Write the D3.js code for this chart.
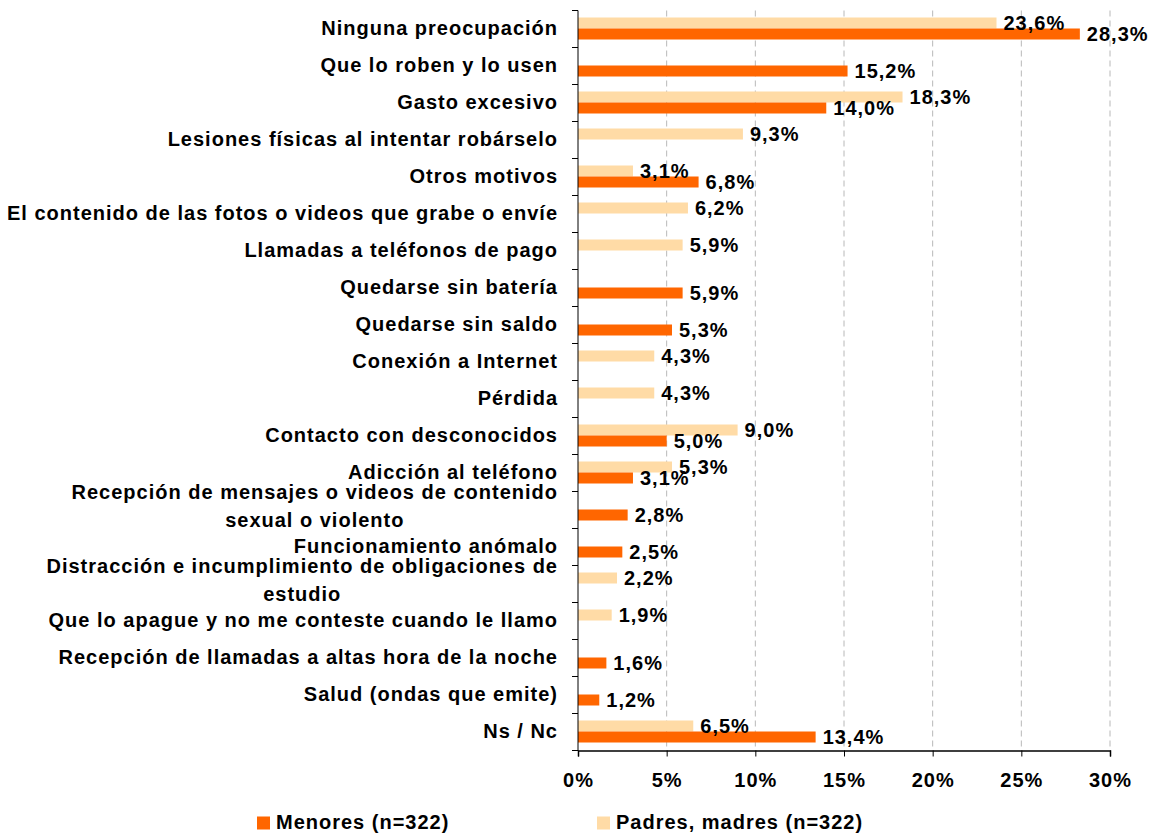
<!DOCTYPE html>
<html>
<head>
<meta charset="utf-8">
<script src="https://cdn.jsdelivr.net/npm/d3@7"></script>
<style>
    body { margin: 0; background: #fff; }
    svg { display: block; font-family: "Liberation Sans", Arial, sans-serif; font-weight: bold; }
    svg text { font-size: 20px; letter-spacing: 1px; }
</style>
</head>
<body>
<div id="chart"></div>
<script>
    // Data (percent). null = no bar for that group
    const categories = [
        "Ninguna preocupación",
        "Que lo roben y lo usen",
        "Gasto excesivo",
        "Lesiones físicas al intentar robárselo",
        "Otros motivos",
        "El contenido de las fotos o videos que grabe o envíe",
        "Llamadas a teléfonos de pago",
        "Quedarse sin batería",
        "Quedarse sin saldo",
        "Conexión a Internet",
        "Pérdida",
        "Contacto con desconocidos",
        "Adicción al teléfono",
        "Recepción de mensajes o videos de contenido\nsexual o violento",
        "Funcionamiento anómalo",
        "Distracción e incumplimiento de obligaciones de\nestudio",
        "Que lo apague y no me conteste cuando le llamo",
        "Recepción de llamadas a altas hora de la noche",
        "Salud (ondas que emite)",
        "Ns / Nc"
    ];
    const menores = [28.3, 15.2, 14.0, null, 6.8, null, null, 5.9, 5.3, null, null, 5.0, 3.1, 2.8, 2.5, null, null, 1.6, 1.2, 13.4];
    const padres = [23.6, null, 18.3, 9.3, 3.1, 6.2, 5.9, null, null, 4.3, 4.3, 9.0, 5.3, null, null, 2.2, 1.9, null, null, 6.5];
    const xTicks = [0, 5, 10, 15, 20, 25, 30];
    const seriesNames = ["Menores (n=322)", "Padres, madres (n=322)"];
    const seriesColors = ["#FF6600", "#FFDBA6"];

    const W = 1154, H = 834;
    const margin = { top: 10.5, right: 44, bottom: 83.5, left: 578 };
    const width = W - margin.left - margin.right;
    const height = H - margin.top - margin.bottom;

    const svg = d3.select("#chart").append("svg")
        .attr("width", W)
        .attr("height", H);

    const g = svg.append("g")
        .attr("transform", "translate(" + margin.left + "," + margin.top + ")");

    const x = d3.scaleLinear().domain([0, 30]).range([0, width]);
    const y = d3.scaleBand().domain(categories).range([0, height]);
    const sub = d3.scaleBand().domain(["Padres", "Menores"])
        .range([y.bandwidth() / 2 - 11.5, y.bandwidth() / 2 + 10.5]);

    // dashed gridlines
    g.append("g")
        .selectAll("line")
        .data(xTicks.slice(1))
        .join("line")
        .attr("x1", d => x(d)).attr("x2", d => x(d))
        .attr("y1", 0).attr("y2", height)
        .attr("stroke", "#b8b8b8")
        .attr("stroke-width", 1)
        .attr("stroke-dasharray", "6,4");

    // rows of bars
    const rows = categories.map((c, i) => ({ cat: c, Menores: menores[i], Padres: padres[i] }));
    const groups = [
        { key: "Padres", color: seriesColors[1] },
        { key: "Menores", color: seriesColors[0] }
    ];

    const barLayer = g.append("g");
    const labelLayer = g.append("g");

    groups.forEach(s => {
        const vals = rows.filter(r => r[s.key] != null);
        barLayer.append("g")
            .selectAll("rect")
            .data(vals)
            .join("rect")
            .attr("x", 0)
            .attr("y", d => y(d.cat) + sub(s.key))
            .attr("width", d => x(d[s.key]))
            .attr("height", sub.bandwidth())
            .attr("fill", s.color);

        labelLayer.append("g")
            .selectAll("text")
            .data(vals)
            .join("text")
            .attr("x", d => x(d[s.key]) + 7)
            .attr("y", d => y(d.cat) + sub(s.key) + sub.bandwidth() + 1)
            .attr("fill", "#000")
            .text(d => d3.format(".1f")(d[s.key]).replace(".", ",") + "%");
    });

    // left axis line + ticks at band edges
    g.append("line")
        .attr("x1", 0).attr("x2", 0)
        .attr("y1", 0).attr("y2", height)
        .attr("stroke", "#000");
    g.append("g")
        .selectAll("line")
        .data(d3.range(categories.length + 1))
        .join("line")
        .attr("x1", -6).attr("x2", 0)
        .attr("y1", d => d * y.step()).attr("y2", d => d * y.step())
        .attr("stroke", "#000");

    // category labels
    const labels = g.append("g")
        .selectAll("text")
        .data(categories)
        .join("text")
        .attr("fill", "#000")
        .each(function (d) {
            const lines = d.split("\n");
            const t = d3.select(this);
            const cy = y(d) + y.bandwidth() / 2;
            if (lines.length === 1) {
                t.attr("x", -20).attr("y", cy + 6).attr("text-anchor", "end").text(d);
            } else {
                t.attr("y", cy - 11);
                t.append("tspan").attr("class", "l0").text(lines[0]);
                t.append("tspan").attr("class", "l1").text(lines[1]);
            }
        });
    // multi-line labels: lines centred on each other, block right aligned
    labels.filter(d => d.includes("\n")).each(function () {
        const t = d3.select(this);
        const t0 = t.select(".l0"), t1 = t.select(".l1");
        const w0 = t0.node().getComputedTextLength();
        const cx = -20 - w0 / 2;
        const yy = +t.attr("y");
        t.attr("text-anchor", "middle");
        t0.attr("x", cx).attr("y", yy);
        t1.attr("x", cx).attr("y", yy + 28);
    });

    // bottom axis
    const xAxis = g.append("g")
        .attr("transform", "translate(0," + height + ")")
        .call(d3.axisBottom(x).tickValues(xTicks).tickSize(6).tickFormat(d => d + "%").tickPadding(16));
    xAxis.select(".domain").attr("stroke", "#000").attr("stroke-width", 1.5);
    xAxis.selectAll(".tick line").attr("stroke", "#000");
    xAxis.selectAll(".tick text")
        .attr("fill", "#000")
        .style("font-size", "20px")
        .style("font-family", "'Liberation Sans', Arial, sans-serif")
        .style("font-weight", "bold");

    // legend
    const legendX = [257, 597];
    const legend = svg.append("g");
    seriesNames.forEach((name, i) => {
        legend.append("rect")
            .attr("x", legendX[i]).attr("y", 816.5)
            .attr("width", 13).attr("height", 13)
            .attr("fill", seriesColors[i]);
        legend.append("text")
            .attr("x", legendX[i] + 19).attr("y", 829)
            .attr("fill", "#000")
            .text(name);
    });
</script>
</body>
</html>
